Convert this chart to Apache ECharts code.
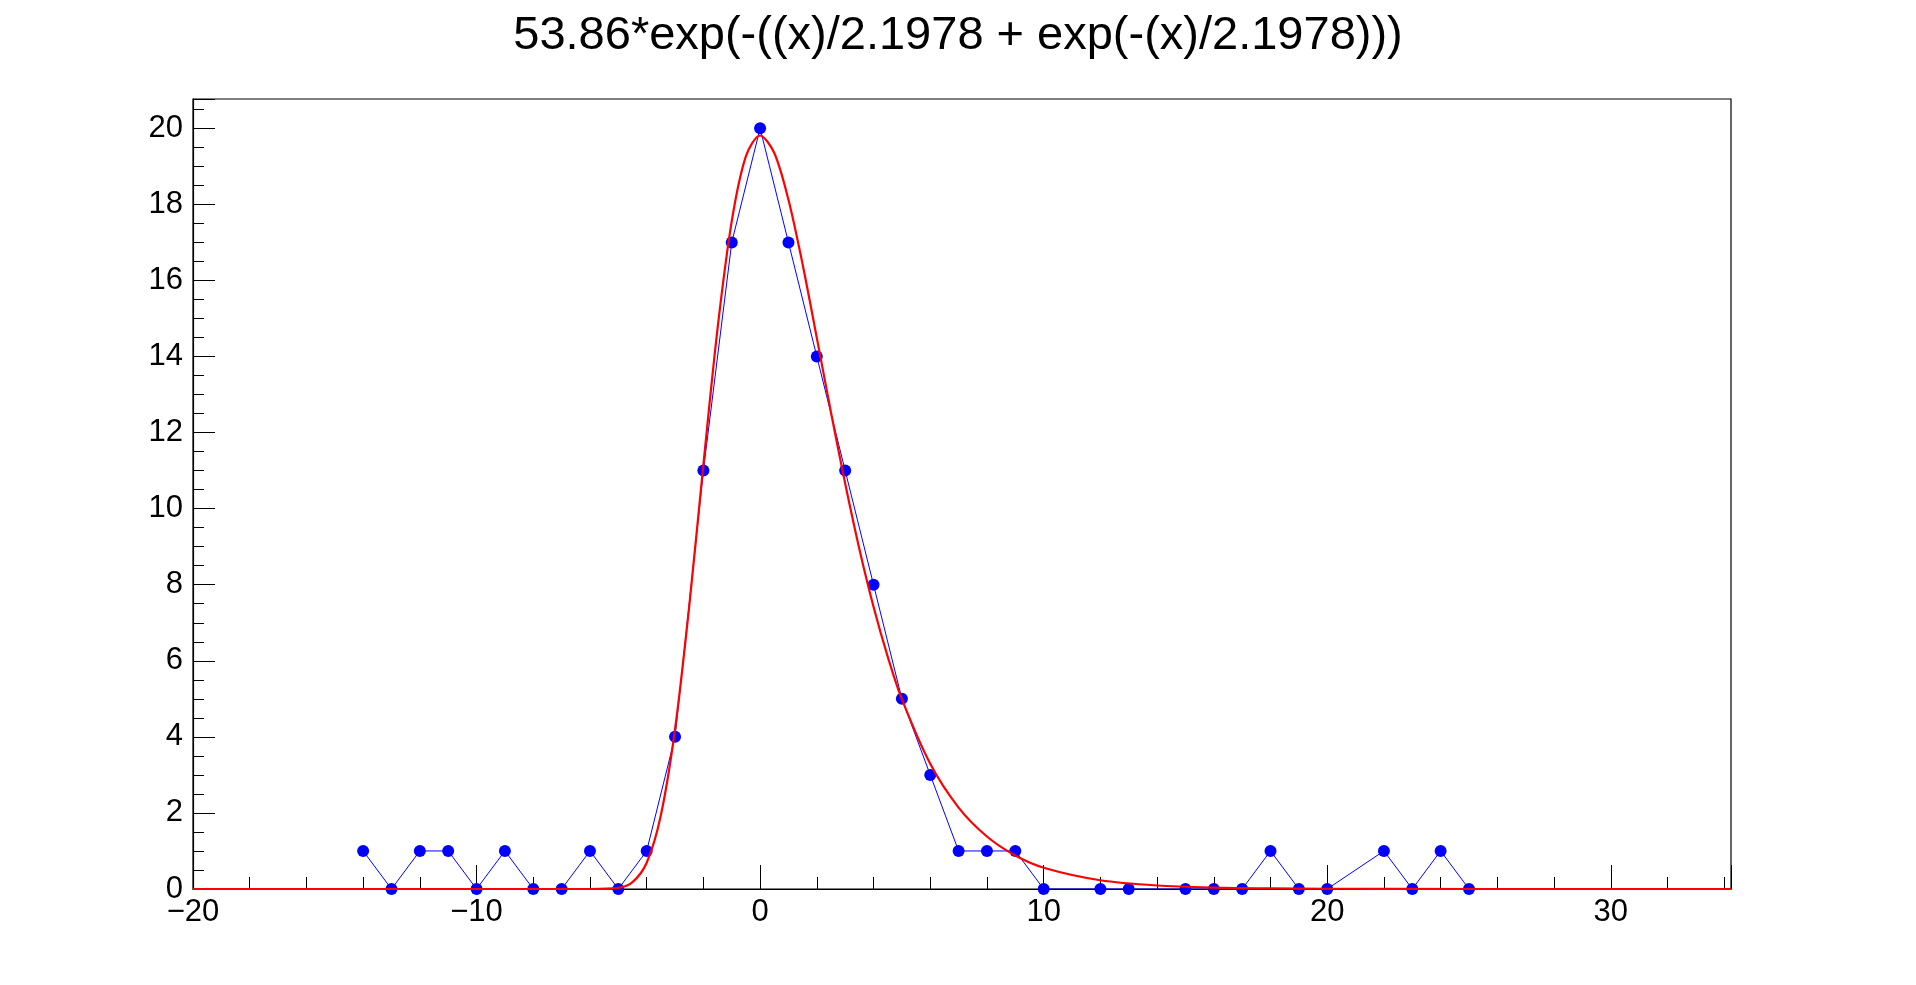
<!DOCTYPE html>
<html><head><meta charset="utf-8">
<script src="https://cdn.jsdelivr.net/npm/echarts@6/dist/echarts.min.js"></script>
<style>html,body{margin:0;padding:0;background:#fff}#c{width:1916px;height:985px}</style>
</head><body><div id="c"></div>
<script>
const titleText = "53.86*exp(-((x)/2.1978 + exp(-(x)/2.1978)))";
const pointX = [-14,-13,-12,-11,-10,-9,-8,-7,-6,-5,-4,-3,-2,-1,0,1,2,3,4,5,6,7,8,9,10,12,13,15,16,17,18,19,20,22,23,24,25];
const pointY = [1,0,1,1,0,1,0,0,1,0,1,4,11,17,20,17,14,11,8,5,3,1,1,1,0,0,0,0,0,0,1,0,0,1,0,1,0];
const curveX = [-20,-6,-5,-4.5,-4,-3.5,-3,-2.5,-2,-1.5,-1,-0.5,0,0.5,1,1.5,2,2.5,3,3.5,4,4.5,5,6,7,8,9,10,12,14,16,18,20,25,34.24];
const curveY = [0,0,0.03,0.18,0.69,1.94,4.2,7.43,11.16,14.74,17.56,19.27,19.81,19.35,18.12,16.42,14.49,12.53,10.66,8.94,7.42,6.11,4.99,3.29,2.14,1.38,0.88,0.56,0.23,0.092,0.037,0.015,0.006,0,0];

const chart = echarts.init(document.getElementById('c'));
const font = 'Liberation Sans, Arial, sans-serif';
chart.setOption({
  animation:false,
  title:{text:titleText,left:'center',top:8,textStyle:{fontFamily:font,fontSize:47,fontWeight:'normal',color:'#000'}},
  grid:{left:193,right:185,top:99,bottom:96,show:true,borderColor:'#000',borderWidth:1.2},
  xAxis:{type:'value',min:-20,max:34.24,interval:10,
    axisLine:{show:true,onZero:false,lineStyle:{color:'#000',width:1.2}},
    axisTick:{show:true,inside:true,length:24,lineStyle:{color:'#000'}},
    minorTick:{show:true,splitNumber:5,length:12,lineStyle:{color:'#000'}},
    splitLine:{show:false},
    axisLabel:{fontFamily:font,fontSize:31,color:'#000',margin:8,
      formatter:v=>Math.abs(v%10)<1e-9?(v<0?'\u2212'+(-v):String(v)):''}},
  yAxis:{type:'value',min:0,max:20.77,interval:2,
    axisLine:{show:true,onZero:false,lineStyle:{color:'#000',width:1.2}},
    axisTick:{show:true,inside:true,length:22,lineStyle:{color:'#000'}},
    minorTick:{show:true,splitNumber:4,length:11,lineStyle:{color:'#000'}},
    splitLine:{show:false},
    axisLabel:{fontFamily:font,fontSize:31,color:'#000',margin:10,
      formatter:v=>Math.abs(v%2)<1e-9?String(v):''}},
  series:[
    {type:'line',data:pointX.map((x,i)=>[x,pointY[i]]),symbol:'circle',symbolSize:12,
      lineStyle:{color:'#0000ff',width:1},itemStyle:{color:'#0000ff'},z:2},
    {type:'line',data:curveX.map((x,i)=>[x,curveY[i]]),smooth:0.3,showSymbol:false,
      lineStyle:{color:'#ff0000',width:2.2},z:3}
  ]
});
</script></body></html>
